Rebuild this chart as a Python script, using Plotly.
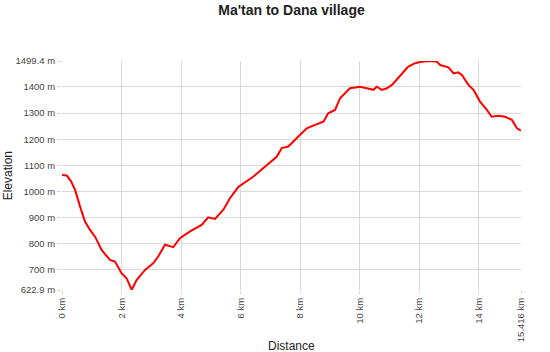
import plotly.graph_objects as go

distance_km = [0, 0.16, 0.30, 0.44, 0.60, 0.77, 0.94, 1.11, 1.33, 1.61, 1.78, 2.0, 2.17, 2.34,
               2.51, 2.79, 3.07, 3.23, 3.46, 3.74, 3.96, 4.30, 4.69, 4.91, 5.14, 5.42, 5.64,
               5.92, 6.43, 6.76, 7.21, 7.38, 7.60, 7.99, 8.22, 8.50, 8.78, 8.94, 9.17, 9.34,
               9.67, 10.01, 10.23, 10.46, 10.57, 10.74, 10.91, 11.08, 11.35, 11.63, 11.86,
               12.08, 12.36, 12.59, 12.70, 12.98, 13.15, 13.31, 13.43, 13.65, 13.82, 14.04,
               14.27, 14.43, 14.66, 14.88, 15.11, 15.28, 15.416]
elevation_m = [1063, 1061, 1040, 1006, 945, 885, 853, 827, 776, 738, 732, 687, 668, 623,
               662, 700, 726, 751, 796, 787, 821, 847, 872, 901, 895, 930, 974,
               1017, 1057, 1089, 1133, 1166, 1172, 1216, 1242, 1255, 1267, 1299, 1312, 1357,
               1395, 1401, 1395, 1389, 1401, 1389, 1395, 1408, 1442, 1478, 1491,
               1497, 1499.4, 1497, 1484, 1475, 1452, 1456, 1446, 1408, 1389, 1344,
               1312, 1286, 1290, 1286, 1274, 1242, 1233]

x_tickvals = [0, 2, 4, 6, 8, 10, 12, 14, 15.416]
x_ticktext = ["0 km", "2 km", "4 km", "6 km", "8 km", "10 km", "12 km", "14 km", "15.416 km"]
y_tickvals = [622.9, 700, 800, 900, 1000, 1100, 1200, 1300, 1400, 1499.4]
y_ticktext = ["622.9 m", "700 m", "800 m", "900 m", "1000 m", "1100 m", "1200 m", "1300 m", "1400 m", "1499.4 m"]

fig = go.Figure(go.Scatter(x=distance_km, y=elevation_m, mode="lines",
                           line=dict(color="#ff0000", width=2), hoverinfo="skip"))

fig.update_layout(
    width=550, height=352,
    margin=dict(l=62, r=29, t=61, b=62, autoexpand=False),
    paper_bgcolor="white", plot_bgcolor="white",
    font=dict(family="Arial, Liberation Sans, sans-serif", size=9.5, color="#444"),
    title=dict(text="<b>Ma'tan to Dana village</b>", x=0.5, xanchor="center",
               xref="paper", y=0.972, yanchor="middle", font=dict(size=14, color="#222")),
    showlegend=False,
    annotations=[
        dict(text="Elevation", xref="paper", yref="paper", x=-0.118, y=0.5,
             xanchor="center", yanchor="middle", textangle=-90, showarrow=False,
             font=dict(size=12, color="#222")),
        dict(text="Distance", xref="paper", yref="paper", x=0.5, y=-0.245,
             xanchor="center", yanchor="middle", showarrow=False,
             font=dict(size=12, color="#222")),
    ],
)
fig.update_xaxes(range=[0, 15.416], tickvals=x_tickvals, ticktext=x_ticktext,
                 tickangle=-90, showgrid=True, gridcolor="#d9d9d9", gridwidth=1,
                 zeroline=False, showline=False, ticks="outside", ticklen=3,
                 tickcolor="#d9d9d9", automargin=False)
fig.update_yaxes(range=[622.9, 1499.4], tickvals=y_tickvals, ticktext=y_ticktext,
                 showgrid=True, gridcolor="#d9d9d9", gridwidth=1,
                 zeroline=False, showline=False, ticks="outside", ticklen=4,
                 tickcolor="#d9d9d9", automargin=False)

fig.write_html("out.html", config={"displayModeBar": False})
with open("out.html", "r", encoding="utf-8") as f:
    html = f.read()
html = html.replace("<head>", "<head><style>html,body{margin:0;padding:0;}</style>", 1)
with open("out.html", "w", encoding="utf-8") as f:
    f.write(html)
